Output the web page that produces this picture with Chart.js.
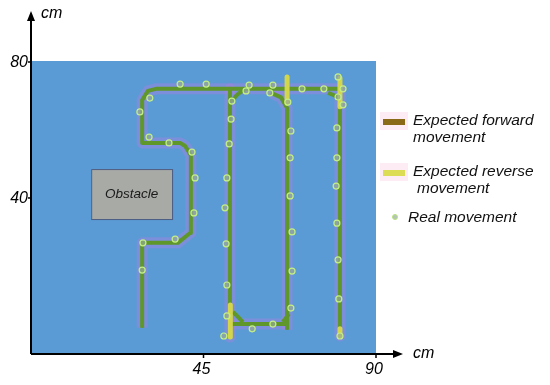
<!DOCTYPE html>
<html>
<head>
<meta charset="utf-8">
<script src="https://cdn.jsdelivr.net/npm/chart.js@4.4.1/dist/chart.umd.min.js"></script>
<style>
    html, body { margin: 0; padding: 0; background: #ffffff; }
    #wrap { width: 550px; height: 385px; position: relative; }
</style>
</head>
<body>
<div id="wrap"><canvas id="grafico"></canvas></div>
<script>
// ================= DATA (cm) =================
const xTicks = [45, 90];
const yTicks = [40, 80];

// expected forward movement (drawn green / olive)
const forwardMain = [[29.0,1.8],[29.0,26.8],[38.3,26.8],[41.5,29.7],[41.7,52.6],[40.2,55.3],[38.9,56.2],[29.0,56.2],[29.0,68.8],[30.5,71.5],[32.6,72.1],[80.6,72.1],[80.6,-0.6]];
const forwardMid = [[51.9,72.1],[51.9,-0.9]];
const forwardRight = [[66.8,1.2],[66.8,66.5],[65.2,69.6],[62.6,70.9]];
const forwardBottom = [[52.2,2.9],[66.8,2.9]];
const cornerCurves = [
    [[52.4,68.5],[54.0,70.6],[55.8,71.8]],
    [[77.5,70.9],[79.6,69.8],[80.6,68.2]],
    [[52.7,6.5],[55.3,3.5]],
    [[65.7,3.5],[67.3,5.9]]
];

// expected reverse movement (yellow)
const reverseSegs = [
    [[66.8,75.6],[66.8,67.9]],
    [[80.6,75.3],[80.6,66.8]],
    [[52.0,8.5],[52.0,-0.9]],
    [[80.6,1.5],[80.6,-0.6]]
];

// real movement samples
const realPts = [
    [38.9,73.5],[31.0,69.4],[28.4,65.3],[45.7,73.5],[56.9,73.2],[63.1,73.2],[56.1,71.5],[62.3,70.9],
    [52.4,68.5],[52.2,63.2],[30.8,57.9],[36.0,56.2],[42.0,53.5],[51.7,55.9],[42.8,45.9],[51.1,45.9],
    [70.7,72.1],[76.4,72.1],[80.1,75.6],[81.4,72.1],[80.1,69.7],[81.4,67.4],[67.0,68.2],[67.8,59.7],
    [67.6,51.8],[79.8,60.6],[79.8,51.8],[79.6,43.5],[42.5,35.6],[37.6,27.9],[29.2,26.8],[29.0,18.8],
    [50.6,37.1],[50.9,26.5],[51.1,14.4],[51.1,5.3],[50.3,-0.6],[57.7,1.5],[63.1,2.9],[67.6,40.6],
    [68.1,30.0],[68.1,18.5],[67.8,7.6],[79.8,32.6],[80.1,21.8],[80.3,10.3],[80.6,-0.6]
];

// obstacle box [x0, y0, x1, y1]
const obstacle = [15.7, 33.8, 36.8, 48.5];

// ================= HELPERS =================
const toPts = arr => arr.map(p => ({ x: p[0], y: p[1] }));

function linea(arr, color, width, order, tension = 0) {
    return {
        data: toPts(arr),
        showLine: true,
        borderColor: color,
        backgroundColor: color,
        borderWidth: width,
        pointRadius: 0,
        tension: tension,
        borderCapStyle: "butt",
        borderJoinStyle: "round",
        order: order
    };
}

const forwardPaths = [forwardMain, forwardMid, forwardRight, forwardBottom];
const datasets = [];

forwardPaths.forEach(p => datasets.push(linea(p, "rgba(175,125,225,0.40)", 11, 5)));
forwardPaths.forEach(p => datasets.push(linea(p, "#5f972a", 4, 4)));
cornerCurves.forEach(p => datasets.push(linea(p, "#5f972a", 4, 4, 0.4)));
forwardPaths.forEach(p => datasets.push(linea(p, "#6f8a22", 1.5, 4)));
reverseSegs.forEach(p => datasets.push(linea(p, "#d3d64a", 5, 3)));

datasets.push({
    data: toPts(realPts),
    showLine: false,
    pointRadius: 3,
    pointBorderWidth: 1.2,
    pointBackgroundColor: "rgba(150,170,150,0.7)",
    pointBorderColor: "#c4ef86",
    order: 1
});

// ================= PLUGINS =================
const fondo = {
    id: "fondo",
    beforeDatasetsDraw(chart) {
        const { ctx, chartArea: a, scales: { x, y } } = chart;
        ctx.save();
        ctx.fillStyle = "#5b9bd5";
        ctx.fillRect(a.left, a.top - 1, a.right - a.left, a.bottom - a.top + 1);

        const x0 = x.getPixelForValue(obstacle[0]);
        const x1 = x.getPixelForValue(obstacle[2]);
        const y0 = y.getPixelForValue(obstacle[3]);
        const y1 = y.getPixelForValue(obstacle[1]);
        ctx.fillStyle = "#a8aaa6";
        ctx.fillRect(x0, y0, x1 - x0, y1 - y0);
        ctx.strokeStyle = "#4d5d82";
        ctx.lineWidth = 1;
        ctx.strokeRect(x0 + 0.5, y0 + 0.5, x1 - x0, y1 - y0);

        ctx.fillStyle = "#1a1a1a";
        ctx.font = "italic 13.5px 'Liberation Sans', Arial, sans-serif";
        ctx.textAlign = "center";
        ctx.textBaseline = "middle";
        ctx.fillText("Obstacle", (x0 + x1) / 2, (y0 + y1) / 2);
        ctx.restore();
    }
};

const ejes = {
    id: "ejes",
    afterDraw(chart) {
        const { ctx, chartArea: a, scales: { x, y } } = chart;
        ctx.save();
        ctx.strokeStyle = "#000";
        ctx.fillStyle = "#000";
        ctx.lineWidth = 2;

        const ox = a.left, oy = a.bottom;
        ctx.beginPath();
        ctx.moveTo(ox, oy);
        ctx.lineTo(ox, 18);
        ctx.moveTo(ox, oy);
        ctx.lineTo(396, oy);
        ctx.stroke();

        // arrow heads
        ctx.beginPath();
        ctx.moveTo(ox, 11); ctx.lineTo(ox - 4, 21); ctx.lineTo(ox + 4, 21); ctx.closePath();
        ctx.fill();
        ctx.beginPath();
        ctx.moveTo(403, oy); ctx.lineTo(393, oy - 4); ctx.lineTo(393, oy + 4); ctx.closePath();
        ctx.fill();

        ctx.font = "italic 16px 'Liberation Sans', Arial, sans-serif";
        ctx.lineWidth = 1.5;
        yTicks.forEach(v => {
            const py = y.getPixelForValue(v);
            ctx.beginPath(); ctx.moveTo(ox - 3, py); ctx.lineTo(ox, py); ctx.stroke();
            ctx.textAlign = "right"; ctx.textBaseline = "middle";
            ctx.fillText(String(v), ox - 3, py + 1);
        });
        xTicks.forEach(v => {
            const px = x.getPixelForValue(v);
            ctx.beginPath(); ctx.moveTo(px, oy); ctx.lineTo(px, oy + 4); ctx.stroke();
            ctx.textAlign = "center"; ctx.textBaseline = "top";
            ctx.fillText(String(v), px - 2, oy + 8);
        });

        ctx.font = "italic 16px 'Liberation Sans', Arial, sans-serif";
        ctx.textAlign = "left"; ctx.textBaseline = "alphabetic";
        ctx.fillText("cm", 41, 18);
        ctx.fillText("cm", 413, 358);

        // legend
        ctx.fillStyle = "#fdecf3";
        ctx.fillRect(380, 112, 28, 18);
        ctx.fillRect(380, 163, 28, 18);
        ctx.fillStyle = "#8b6a17";
        ctx.fillRect(383, 119, 22, 6);
        ctx.fillStyle = "#dcdc55";
        ctx.fillRect(383, 170, 22, 6);

        ctx.fillStyle = "#111";
        ctx.font = "italic 15.5px 'Liberation Sans', Arial, sans-serif";
        ctx.fillText("Expected forward", 413, 125);
        ctx.fillText("movement", 413, 142);
        ctx.fillText("Expected reverse", 413, 176);
        ctx.fillText("movement", 417, 193);
        ctx.fillText("Real movement", 408, 222);

        ctx.beginPath();
        ctx.arc(395, 217, 2.5, 0, Math.PI * 2);
        ctx.fillStyle = "rgba(150,170,150,0.7)";
        ctx.fill();
        ctx.strokeStyle = "#b8e27e";
        ctx.lineWidth = 1;
        ctx.stroke();
        ctx.restore();
    }
};

// ================= CHART =================
new Chart(document.getElementById("grafico"), {
    type: "scatter",
    data: { datasets },
    options: {
        responsive: true,
        maintainAspectRatio: false,
        animation: false,
        layout: { padding: { left: 31, right: 174, top: 62, bottom: 31 } },
        plugins: { legend: { display: false }, tooltip: { enabled: false } },
        scales: {
            x: { type: "linear", min: 0, max: 90, display: false },
            y: { type: "linear", min: -5.9, max: 80, display: false }
        }
    },
    plugins: [fondo, ejes]
});
</script>
</body>
</html>
